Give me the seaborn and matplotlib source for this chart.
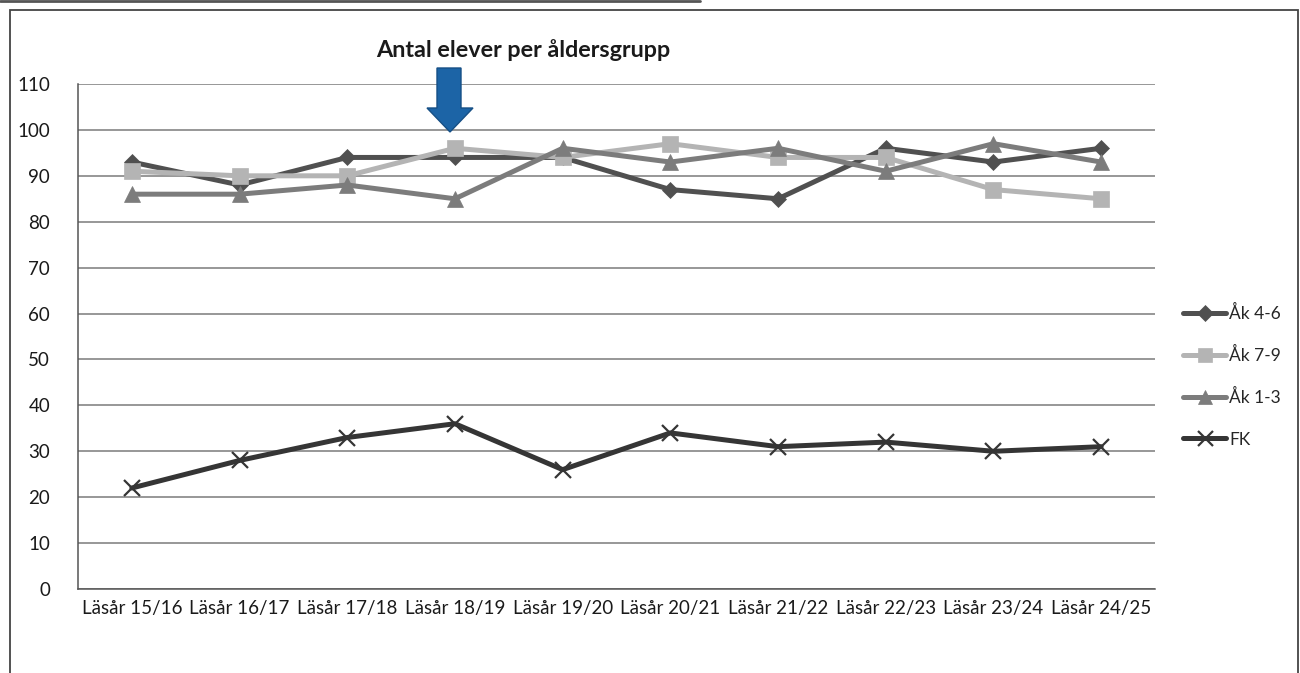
import matplotlib
matplotlib.use("Agg")
import matplotlib.pyplot as plt
import matplotlib.patches as mpatches
from matplotlib.lines import Line2D
import seaborn as sns
import pandas as pd
import numpy as np

categories = ["Läsår 15/16", "Läsår 16/17", "Läsår 17/18", "Läsår 18/19", "Läsår 19/20",
              "Läsår 20/21", "Läsår 21/22", "Läsår 22/23", "Läsår 23/24", "Läsår 24/25"]
ak46 = [93, 88, 94, 94, 94, 87, 85, 96, 93, 96]
ak79 = [91, 90, 90, 96, 94, 97, 94, 94, 87, 85]
ak13 = [86, 86, 88, 85, 96, 93, 96, 91, 97, 93]
fk = [22, 28, 33, 36, 26, 34, 31, 32, 30, 31]
series_names = ["Åk 4-6", "Åk 7-9", "Åk 1-3", "FK"]
title = "Antal elever per åldersgrupp"
yticks = [0, 10, 20, 30, 40, 50, 60, 70, 80, 90, 100, 110]

sns.set_theme(style="white")
plt.rcParams['font.family'] = ['Lato', 'DejaVu Sans']

W, H = 1300, 673
fig = plt.figure(figsize=(W / 100, H / 100), dpi=100)
fig.patch.set_facecolor("white")

def fx(px):
    return px / W

def fy(py):
    return 1 - py / H

ax = fig.add_axes([fx(78), fy(589), fx(1155) - fx(78), fy(84) - fy(589)])

frames = []
for name, vals in zip(series_names, [ak46, ak79, ak13, fk]):
    frames.append(pd.DataFrame({"cat": np.arange(len(categories)), "val": vals, "serie": name}))
df = pd.concat(frames, ignore_index=True)

styles = {
    "Åk 4-6": dict(color="#505050", marker="D", ms=8.5),
    "Åk 7-9": dict(color="#b4b4b4", marker="s", ms=11),
    "Åk 1-3": dict(color="#7c7c7c", marker="^", ms=11),
    "FK": dict(color="#353535", marker="x", ms=12),
}

handles = []
for name in series_names:
    st = styles[name]
    sub = df[df["serie"] == name]
    sns.lineplot(data=sub, x="cat", y="val", ax=ax, color=st["color"], linewidth=3.6,
                 marker=st["marker"], markersize=st["ms"], markeredgecolor=st["color"],
                 markerfacecolor=st["color"], markeredgewidth=1.6 if name == "FK" else 0.5,
                 legend=False, zorder=3)
    handles.append(Line2D([0], [0], color=st["color"], lw=3.6, marker=st["marker"],
                          markersize=st["ms"] * 0.9, markerfacecolor=st["color"],
                          markeredgecolor=st["color"],
                          markeredgewidth=1.6 if name == "FK" else 0.5))

ax.set_xlim(-0.5, len(categories) - 0.5)
ax.set_ylim(0, 110)
ax.set_yticks(yticks)
ax.set_yticklabels([str(v) for v in yticks], fontsize=13.5, color="#1a1a1a")
ax.set_xticks(np.arange(len(categories)))
ax.set_xticklabels(categories, fontsize=13.5, color="#1a1a1a")
ax.set_xticks(np.arange(len(categories) + 1) - 0.5, minor=True)
ax.tick_params(axis="x", which="major", length=0, pad=8)
ax.tick_params(axis="x", which="minor", length=5, width=1, color="#555555", direction="out")
ax.tick_params(axis="y", which="major", length=5, width=1, color="#555555", direction="out", pad=15)
ax.set_xlabel("")
ax.set_ylabel("")

ax.yaxis.grid(True, color="#7a7a7a", linewidth=1.1)
ax.xaxis.grid(False)
ax.set_axisbelow(True)
for s in ["top", "right"]:
    ax.spines[s].set_visible(False)
ax.spines["left"].set_color("#555555")
ax.spines["left"].set_linewidth(1.1)
ax.spines["bottom"].set_color("#555555")
ax.spines["bottom"].set_linewidth(1.1)

leg = fig.legend(handles, series_names, loc="upper left",
                 bbox_to_anchor=(fx(1176), fy(298)), frameon=False, fontsize=12.5,
                 handlelength=2.5, handletextpad=0.15, labelspacing=1.45, borderaxespad=0)

fig.text(fx(523), fy(50), title, ha="center", va="center", fontsize=16.8,
         fontweight="bold", color="#1a1a1a")

# blue arrow
arrow_pts = [(437, 68), (461, 68), (461, 108), (473, 108), (450, 132), (427, 108), (437, 108)]
arrow = mpatches.Polygon([(fx(x), fy(y)) for x, y in arrow_pts], closed=True,
                         transform=fig.transFigure, facecolor="#1c64a6",
                         edgecolor="#164f85", linewidth=1)
fig.patches.append(arrow)

# outer frame
frame = mpatches.Rectangle((fx(10), fy(690)), fx(1298) - fx(10), fy(10) - fy(690),
                           transform=fig.transFigure, fill=False, edgecolor="#444444",
                           linewidth=1.3)
fig.patches.append(frame)
fig.add_artist(Line2D([0, fx(700)], [fy(1), fy(1)], transform=fig.transFigure,
                      color="#555555", linewidth=2))

fig.savefig("out.png", dpi=100, facecolor="white")
